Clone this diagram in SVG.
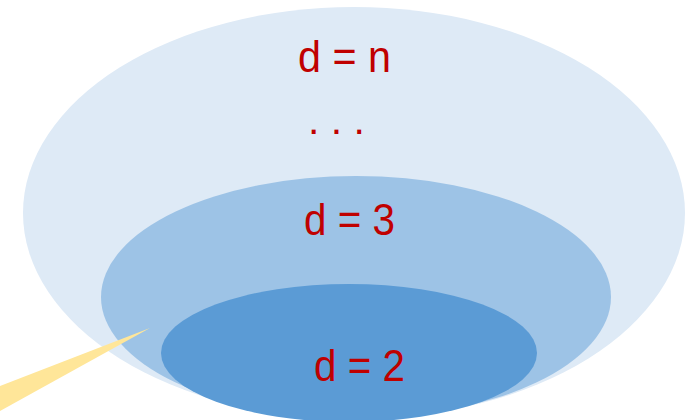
<svg xmlns="http://www.w3.org/2000/svg" width="685" height="420" viewBox="0 0 685 420">
<style>
.lbl{font-family:"Liberation Sans",Arial,sans-serif;font-size:44px;fill:#C00000}
</style>
<rect width="685" height="420" fill="#FFFFFF"/>
<g id="outer">
<ellipse cx="354" cy="213" rx="331" ry="206" fill="#DEEAF6"/>
<text class="lbl" x="298" y="72" textLength="93" lengthAdjust="spacingAndGlyphs">d = n</text>
<text class="lbl" x="308" y="134" style="font-size:41px">. . .</text>
</g>
<g id="middle">
<ellipse cx="356" cy="297" rx="255" ry="121" fill="#9DC3E6"/>
<text class="lbl" x="304" y="235" textLength="91" lengthAdjust="spacingAndGlyphs">d = 3</text>
</g>
<g id="inner">
<ellipse cx="349" cy="353" rx="188" ry="69" fill="#5B9BD5"/>
<text class="lbl" x="314" y="381" textLength="91" lengthAdjust="spacingAndGlyphs">d = 2</text>
</g>
<g id="connectors">
<polygon points="150,328 0,386 0,411" fill="#FFE699"/>
</g>
</svg>
